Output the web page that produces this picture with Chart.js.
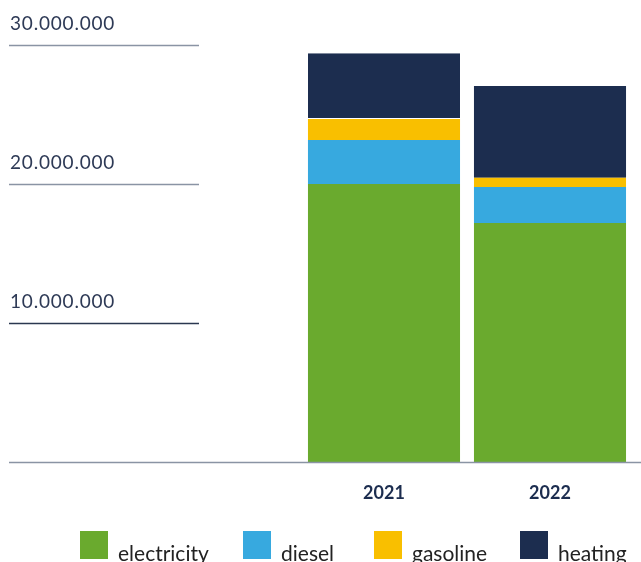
<!DOCTYPE html>
<html>
<head>
<meta charset="utf-8">
<script src="https://cdn.jsdelivr.net/npm/chart.js@4"></script>
<style>
  html, body { margin: 0; padding: 0; background: #fff; }
  #wrap { width: 641px; height: 562px; position: relative; }
</style>
</head>
<body>
<div id="wrap"><canvas id="c" width="641" height="562"></canvas></div>
<script>
const categories = ['2021', '2022'];
const seriesNames = ['electricity', 'diesel', 'gasoline', 'heating'];
const electricity = [20000000, 17190000];
const diesel = [3170000, 2590000];
const gasoline = [1500000, 670000];
const heating = [4740000, 6600000];
const yTickValues = [10000000, 20000000, 30000000];

const colors = ['#6aaa2e', '#37a9df', '#f9bf00', '#1c2d4f'];
const seriesValues = [electricity, diesel, gasoline, heating];

const datasets = seriesNames.map((name, i) => ({
  label: name,
  data: seriesValues[i],
  backgroundColor: colors[i],
  borderWidth: 0,
  barPercentage: 0.916,
  categoryPercentage: 1.0
}));
// thin white separator under heating segment of first bar
datasets[3].borderColor = '#ffffff';
datasets[3].borderSkipped = false;
datasets[3].borderWidth = (ctx) => ctx.dataIndex === 0 ? {top: 0, left: 0, right: 0, bottom: 1} : 0;

const fmt = v => v.toLocaleString('de-DE');

const customAxes = {
  id: 'customAxes',
  afterDraw(chart) {
    const ctx = chart.ctx;
    const y = chart.scales.y;
    ctx.save();
    yTickValues.forEach(v => {
      const py = Math.round(y.getPixelForValue(v)) + 0.5;
      ctx.beginPath();
      ctx.strokeStyle = v === 10000000 ? '#2b3850' : '#8a94a4';
      ctx.lineWidth = 1.3;
      ctx.moveTo(9, py);
      ctx.lineTo(199, py);
      ctx.stroke();
      ctx.fillStyle = '#2e3a56';
      ctx.font = '400 19px Lato';
      try { ctx.letterSpacing = '0.8px'; } catch (e) {}
      ctx.textAlign = 'left';
      ctx.textBaseline = 'alphabetic';
      ctx.fillText(fmt(v), 10, py - 16);
      try { ctx.letterSpacing = '0px'; } catch (e) {}
    });
    const p0 = Math.round(y.getPixelForValue(0)) + 0.5;
    ctx.beginPath();
    ctx.strokeStyle = '#8a94a4';
    ctx.lineWidth = 1.5;
    ctx.moveTo(9, p0);
    ctx.lineTo(641, p0);
    ctx.stroke();
    const boxX = [80, 243, 374, 520];
    chart.data.datasets.forEach((ds, i) => {
      ctx.fillStyle = ds.backgroundColor;
      ctx.fillRect(boxX[i], 531, 28, 28);
      ctx.fillStyle = '#222222';
      ctx.font = '21px Lato';
      ctx.textAlign = 'left';
      ctx.textBaseline = 'alphabetic';
      ctx.fillText(ds.label, boxX[i] + 38, 561);
    });
    ctx.restore();
  }
};

new Chart(document.getElementById('c'), {
  type: 'bar',
  data: { labels: categories, datasets },
  options: {
    responsive: false,
    animation: false,
    layout: { padding: { left: 301, right: 8, top: 45, bottom: 38.4 } },
    plugins: { legend: { display: false }, tooltip: { enabled: false } },
    scales: {
      x: {
        stacked: true,
        grid: { display: false, drawTicks: false },
        border: { display: false },
        ticks: {
          padding: 20,
          color: '#1c2d4f',
          font: { family: 'Lato', size: 18, weight: 'bold' }
        }
      },
      y: {
        stacked: true,
        display: false,
        min: 0,
        max: 30000000,
        ticks: { stepSize: 10000000 }
      }
    }
  },
  plugins: [customAxes]
});
</script>
</body>
</html>
